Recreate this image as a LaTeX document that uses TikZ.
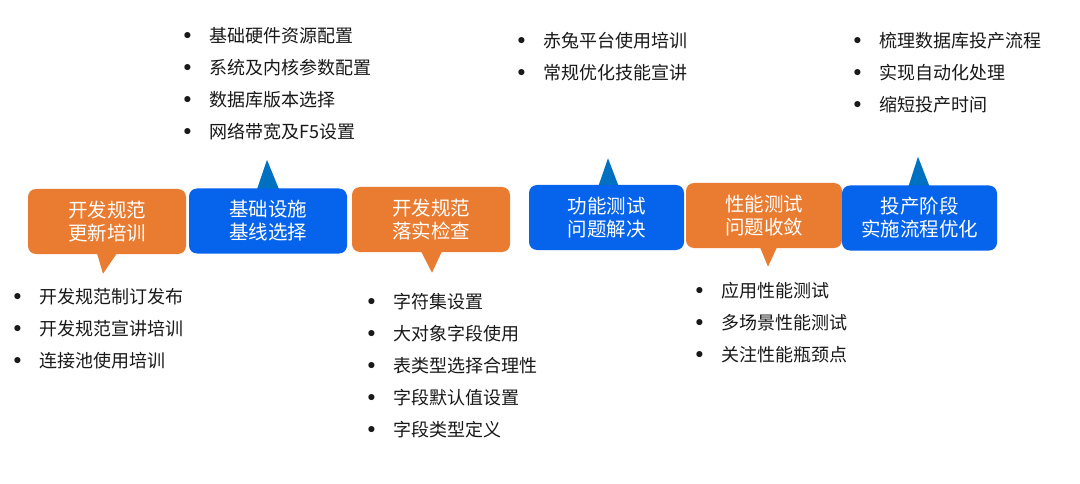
\documentclass[tikz,border=0pt]{standalone}
\usepackage{fontspec}
\setmainfont{Noto Sans CJK SC}
\usepackage{xcolor}
\usetikzlibrary{positioning,calc,backgrounds}
\definecolor{stageorange}{HTML}{E97C30}
\definecolor{stageblue}{HTML}{0563EC}
\definecolor{pinblue}{HTML}{0070C0}
\newcommand{\bitem}[1]{\makebox[24pt][l]{\hspace{3pt}\makebox[0pt][c]{\raisebox{-4.5pt}[0pt][0pt]{\scalebox{1.6}{\textbullet}}}}#1}

\begin{document}
\begin{tikzpicture}[
    x=1pt, y=-1pt,
    stage/.style={rectangle, rounded corners=8pt, minimum width=158pt, minimum height=65pt, inner sep=0pt, fill=#1, text=white, align=center, font=\fontsize{19.5}{23}\selectfont},
    stage/.default=stageorange,
    items/.style={anchor=north west, inner sep=0pt, align=left, text=black!90, font=\fontsize{18}{32}\selectfont},
    tail/.style={fill=#1},
    tail/.default=stageorange
]
    \begin{scope}[on background layer]
        \fill[white] (0,0) rectangle (1080,484);
    \end{scope}
    \useasboundingbox (0,0) rectangle (1080,484);

    % Stages along the line
    \node[stage=stageorange] (spec)    at (107,221.5) {开发规范\\更新培训};
    \node[stage=stageblue]   (infra)   at (268,221)   {基础设施\\基线选择};
    \node[stage=stageorange] (check)   at (431,219.5) {开发规范\\落实检查};
    \node[stage=stageblue, minimum width=155pt]   (func)    at (606.5,217.5) {功能测试\\问题解决};
    \node[stage=stageorange, minimum width=156pt] (perf)    at (764,215.5)   {性能测试\\问题收敛};
    \node[stage=stageblue, minimum width=155pt]   (release) at (919.5,218) {投产阶段\\实施流程优化};

    % Pointers behind the stages
    \begin{scope}[on background layer]
        \fill[tail] ($(spec.south)+(-10,-1)$) -- ($(spec.south)+(-4,19.5)$) -- ($(spec.south)+(10,-1)$) -- cycle;
        \fill[tail] ($(check.south)+(-10,-1)$) -- ($(check.south)+(1,20.5)$) -- ($(check.south)+(11,-1)$) -- cycle;
        \fill[tail] ($(perf.south)+(-4,-1)$) -- ($(perf.south)+(4,18.5)$) -- ($(perf.south)+(13,-1)$) -- cycle;
        \fill[tail=pinblue] ($(infra.north)+(-11,1)$) -- ($(infra.north)+(-1,-28.5)$) -- ($(infra.north)+(11,1)$) -- cycle;
        \fill[tail=pinblue] ($(func.north)+(-8,1)$) -- ($(func.north)+(1.5,-26.5)$) -- ($(func.north)+(12,1)$) -- cycle;
        \fill[tail=pinblue] ($(release.north)+(-11,1)$) -- ($(release.north)+(-1.5,-28.5)$) -- ($(release.north)+(10,1)$) -- cycle;
    \end{scope}

    % Item lists
    \node[items] (infralist) at (185,27) {\bitem{基础硬件资源配置}\\\bitem{系统及内核参数配置}\\\bitem{数据库版本选择}\\\bitem{网络带宽及F5设置}};
    \node[items] (speclist) at (15,288) {\bitem{开发规范制订发布}\\\bitem{开发规范宣讲培训}\\\bitem{连接池使用培训}};
    \node[items] (checklist) at (369,293) {\bitem{字符集设置}\\\bitem{大对象字段使用}\\\bitem{表类型选择合理性}\\\bitem{字段默认值设置}\\\bitem{字段类型定义}};
    \node[items] (funclist) at (519,32) {\bitem{赤兔平台使用培训}\\\bitem{常规优化技能宣讲}};
    \node[items] (perflist) at (697,282) {\bitem{应用性能测试}\\\bitem{多场景性能测试}\\\bitem{关注性能瓶颈点}};
    \node[items] (releaselist) at (855,32) {\bitem{梳理数据库投产流程}\\\bitem{实现自动化处理}\\\bitem{缩短投产时间}};
\end{tikzpicture}
\end{document}
